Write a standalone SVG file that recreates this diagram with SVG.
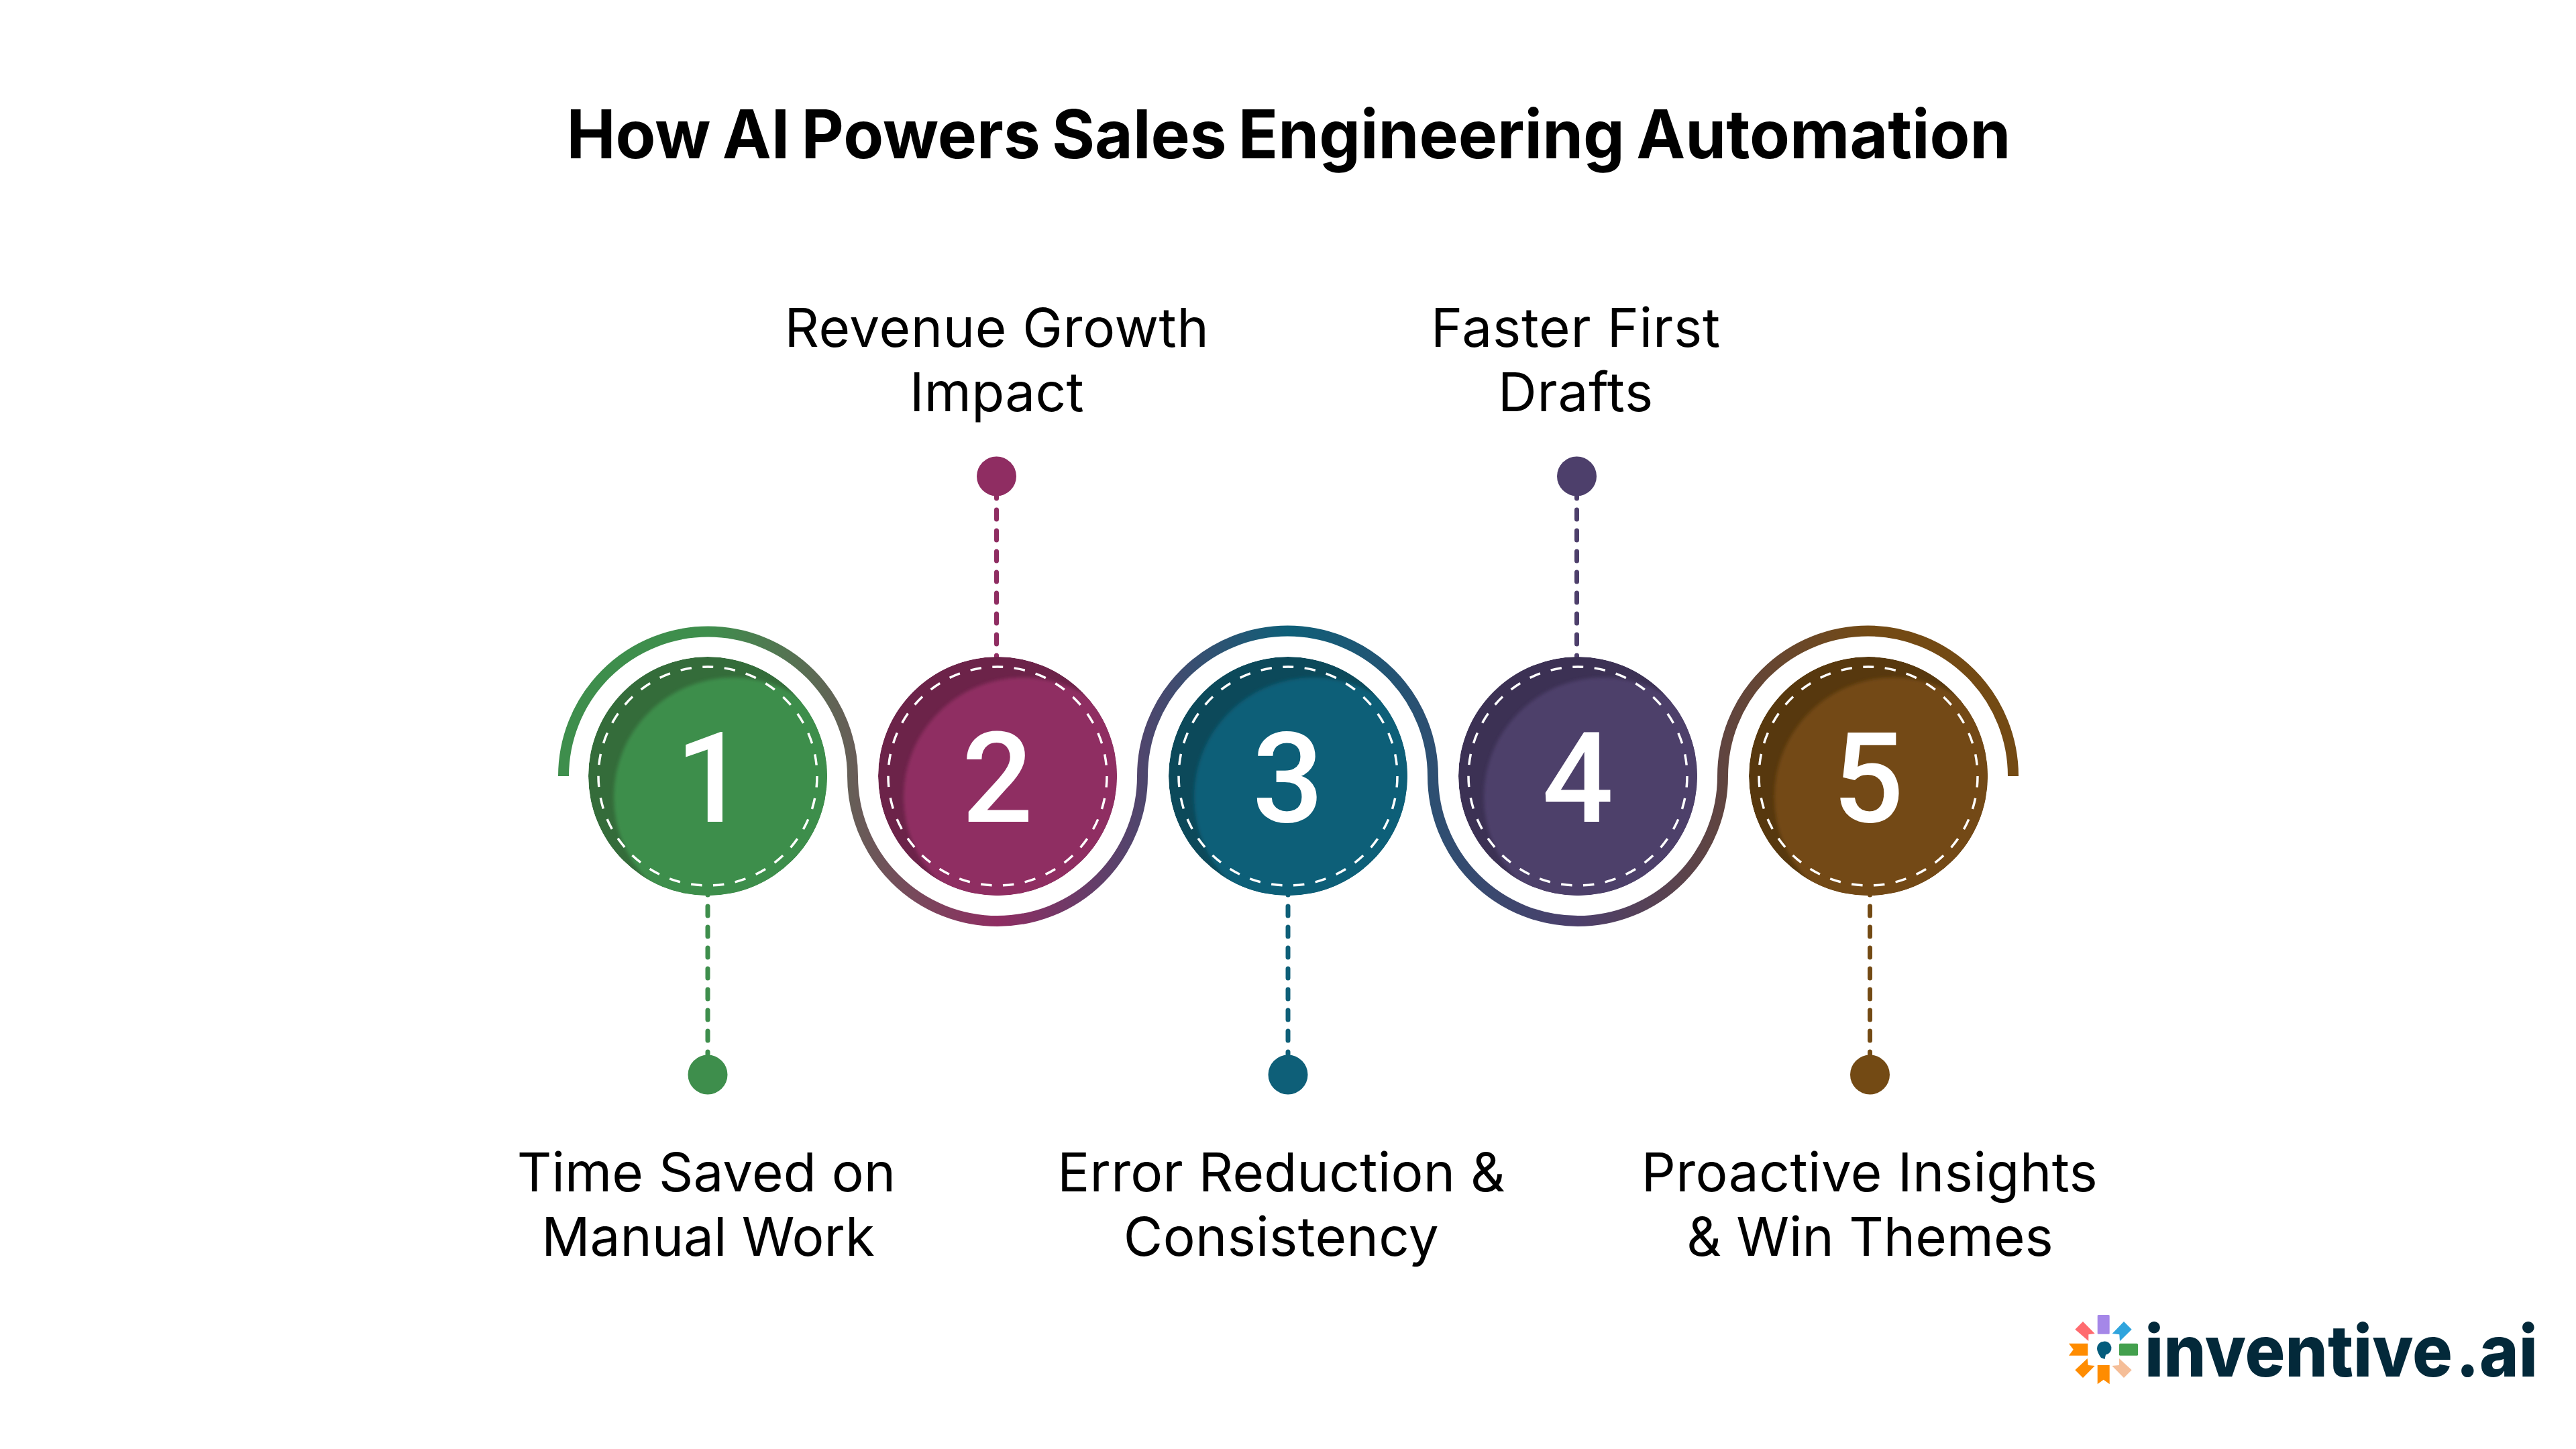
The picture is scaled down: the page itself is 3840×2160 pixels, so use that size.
<svg xmlns="http://www.w3.org/2000/svg" width="3840" height="2160" viewBox="0 0 3840 2160">
<style>
text{font-family:"Inter","Noto Sans",sans-serif}
.title{font-size:100px;font-weight:700;fill:#000;text-anchor:middle;word-spacing:-6px}
.label{font-size:80px;font-weight:400;fill:#000;text-anchor:middle}
.digit{font-family:"Roboto","Inter",sans-serif;font-size:187px;font-weight:500;fill:#fff;text-anchor:middle}
.ring{fill:none;stroke:#fff;stroke-width:3.5;stroke-dasharray:16.52 16.52;stroke-dashoffset:8.26}
.conn{fill:none;stroke-width:7;stroke-linecap:round;stroke-dasharray:14 17}
.brand{font-size:106px;font-weight:800;fill:#03293a;word-spacing:-18px}
</style>
<defs>
<linearGradient id="wave" gradientUnits="userSpaceOnUse" x1="840" y1="0" x2="3001" y2="0">
<stop offset="0.0995" stop-color="#3e8e4c"/><stop offset="0.2994" stop-color="#8f2d62"/><stop offset="0.4998" stop-color="#0e5f78"/><stop offset="0.6997" stop-color="#4d3f6b"/><stop offset="0.9" stop-color="#734a14"/>
</linearGradient>
<clipPath id="disc"><circle r="178"/></clipPath>
<filter id="soft" x="-10%" y="-10%" width="120%" height="120%"><feGaussianBlur stdDeviation="2.500"/></filter>
<path id="dashring" d="M0-163A163 163 0 1 1 0 163A163 163 0 1 1 0-163Z"/>
</defs>
<rect width="3840" height="2160" fill="#fff"/>
<text class="title" x="1921" y="236" textLength="2153" lengthAdjust="spacingAndGlyphs">How AI Powers Sales Engineering Automation</text>
<g id="connectors">
<path d="M840 1157A215.5 215.5 0 0 1 1271 1157A216 216 0 0 0 1703 1157A216.500 216.500 0 0 1 2136 1157A216 216 0 0 0 2568 1157A216.500 216.500 0 0 1 3001 1157" fill="none" stroke="url(#wave)" stroke-width="16"/>
<path class="conn" stroke="#3e8e4c" d="M1055 1320V1600"/>
<path class="conn" stroke="#8f2d62" d="M1485.500 729V990"/>
<path class="conn" stroke="#0e5f78" d="M1920 1320V1600"/>
<path class="conn" stroke="#4d3f6b" d="M2350.500 729V990"/>
<path class="conn" stroke="#734a14" d="M2787.500 1320V1600"/>
</g>
<g id="node1">
<g transform="translate(1055 1157)"><g clip-path="url(#disc)"><circle r="178" fill="#346c3a"/><circle cx="38" cy="31" r="178" fill="#3e8e4c" filter="url(#soft)"/></g><use href="#dashring" class="ring"/><text class="digit" x="5" y="68">1</text></g>
<circle cx="1055" cy="1602" r="29.500" fill="#3e8e4c"/>
<text class="label" x="1053" y="1776" letter-spacing="0.2">Time Saved on</text><text class="label" x="1055.500" y="1872">Manual Work</text>
</g>
<g id="node2">
<g transform="translate(1487 1157)"><g clip-path="url(#disc)"><circle r="178" fill="#6c2349"/><circle cx="38" cy="31" r="178" fill="#8f2d62" filter="url(#soft)"/></g><use href="#dashring" class="ring"/><text class="digit" x="0" y="68">2</text></g>
<circle cx="1485.500" cy="710" r="29.500" fill="#8f2d62"/>
<text class="label" x="1486" y="517" letter-spacing="0.7">Revenue Growth</text><text class="label" x="1486" y="613" letter-spacing="0.3">Impact</text>
</g>
<g id="node3">
<g transform="translate(1920 1157)"><g clip-path="url(#disc)"><circle r="178" fill="#0c495a"/><circle cx="38" cy="31" r="178" fill="#0e5f78" filter="url(#soft)"/></g><use href="#dashring" class="ring"/><text class="digit" x="0" y="68">3</text></g>
<circle cx="1920" cy="1602" r="29.500" fill="#0e5f78"/>
<text class="label" x="1910" y="1776" letter-spacing="0.3">Error Reduction &amp;</text><text class="label" x="1910" y="1872" letter-spacing="0.4">Consistency</text>
</g>
<g id="node4">
<g transform="translate(2352 1157)"><g clip-path="url(#disc)"><circle r="178" fill="#3c3154"/><circle cx="38" cy="31" r="178" fill="#4d3f6b" filter="url(#soft)"/></g><use href="#dashring" class="ring"/><text class="digit" x="0" y="68">4</text></g>
<circle cx="2350.500" cy="710" r="29.500" fill="#4d3f6b"/>
<text class="label" x="2349" y="517" letter-spacing="0.8">Faster First</text><text class="label" x="2349" y="613" letter-spacing="0.8">Drafts</text>
</g>
<g id="node5">
<g transform="translate(2785 1157)"><g clip-path="url(#disc)"><circle r="178" fill="#57380e"/><circle cx="38" cy="31" r="178" fill="#734a14" filter="url(#soft)"/></g><use href="#dashring" class="ring"/><text class="digit" x="0" y="68">5</text></g>
<circle cx="2787.500" cy="1602" r="29.500" fill="#734a14"/>
<text class="label" x="2787" y="1776" letter-spacing="0.5">Proactive Insights</text><text class="label" x="2787.500" y="1872">&amp; Win Themes</text>
</g>
<g id="logo">
<rect x="3126.700" y="1960" width="18" height="28.700" rx="1.500" fill="#a587e8"/>
<rect x="3159" y="2002.700" width="28" height="18" rx="1.500" fill="#43a04e"/>
<path d="M3084 2002.700H3112.300V2020.700H3084L3090.700 2011.700Z" fill="#ff8c00"/>
<path d="M3126.700 2035H3144.700V2063.300L3135.700 2056.700L3126.700 2063.300Z" fill="#ff8c00"/>
<path d="M3093.300 1981.700L3105 1970L3122.700 1988L3113.300 1989.300V1999Z" fill="#ff6b6f"/>
<path d="M3177.700 1981.700L3166 1970L3148.700 1988L3159.300 1989.300L3160 1999.300Z" fill="#2fa4dd"/>
<path d="M3093.300 2042.300L3111.700 2025L3112.700 2035L3122.700 2036L3105 2054Z" fill="#ff8c00"/>
<path d="M3177.700 2042.300L3159 2025L3159 2035L3148.300 2036L3166 2054Z" fill="#f5be98"/>
<path d="M3136 1999.700A10 10 0 0 1 3139 2019.500L3137.500 2026L3132 2024C3128 2018 3126 2014 3126 2009.700A10 10 0 0 1 3136 1999.700Z" fill="#045c7c"/>
<text class="brand" x="3197" y="2052" textLength="586" lengthAdjust="spacingAndGlyphs">inventive .ai</text>
</g>
</svg>
